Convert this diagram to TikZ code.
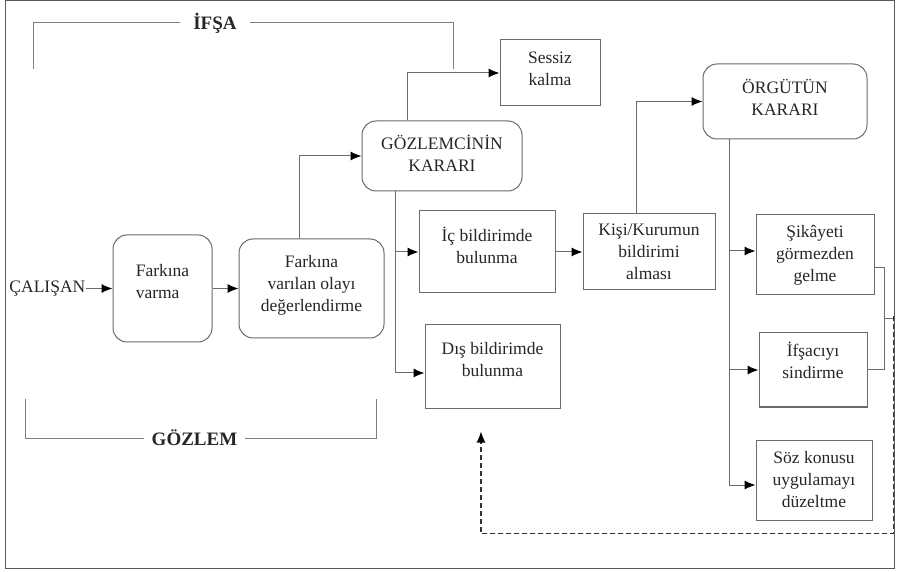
\documentclass[tikz,border=0pt]{standalone}
\usepackage{fontspec}
\setmainfont{Liberation Serif}
\usetikzlibrary{arrows.meta, positioning}
\definecolor{lgray}{HTML}{6A6A6A}
\definecolor{tgray}{HTML}{262626}
\tikzstyle{stage} = [rectangle, rounded corners=14pt, draw=lgray, line width=1pt, inner sep=0pt, text=tgray, text centered, align=center, font=\fontsize{17.5}{22}\selectfont]
\tikzstyle{outcome} = [rectangle, draw=lgray, line width=1pt, inner sep=0pt, text=tgray, text centered, align=center, font=\fontsize{17.5}{22}\selectfont]
\tikzstyle{phase} = [text=tgray, font=\bfseries\fontsize{19}{22}\selectfont]
\tikzstyle{wire} = [draw=lgray, line width=1pt]
\tikzstyle{cable} = [wire, ->, >={Latex[length=11pt, width=9pt, color=black]}]
\tikzstyle{feedback} = [cable, draw=black!80, line width=1.2pt, dash pattern=on 5pt off 3pt]

\begin{document}
\begin{tikzpicture}[x=1pt, y=-1pt, node distance=26pt]
  \useasboundingbox (0,0) rectangle (898,572);
  \draw [wire, draw=black!65] (5,1) rectangle (894,568);
  \node (varma) [stage, align=left, text depth=14pt, minimum width=99pt, minimum height=107pt] at (162.5,288.5) {Farkına\\varma};
  \node (calisan) [left=27pt of varma, inner sep=0pt, text=tgray, font=\fontsize{17.5}{22}\selectfont] {ÇALIŞAN};
  \node (deger) [stage, text depth=10pt, minimum width=145pt, minimum height=99pt, right=26pt of varma] {Farkına\\varılan olayı\\değerlendirme};
  \draw [cable] (calisan) -- (varma);
  \draw [cable] (varma) -- (deger);
  \node (gkarar) [stage, text depth=6pt, minimum width=160pt, minimum height=70pt, above right=47pt and -23pt of deger] {GÖZLEMCİNİN\\KARARI};
  \node (sessiz) [outcome, text depth=8pt, minimum width=100pt, minimum height=66pt, above right=14pt and -23pt of gkarar] {Sessiz\\kalma};
  \draw [cable] ([xshift=-12.5pt]deger.north) |- (gkarar);
  \draw [cable] ([xshift=-35pt]gkarar.north) |- (sessiz);
  \node (ic) [outcome, text depth=14pt, minimum width=136pt, minimum height=82pt, right=34pt of deger, yshift=36.5pt] {İç bildirimde\\bulunma};
  \node (dis) [outcome, text depth=14pt, minimum width=135pt, minimum height=83pt, below=31pt of ic, xshift=5.5pt] {Dış bildirimde\\bulunma};
  \draw [cable] ([xshift=-47pt]gkarar.south) |- (ic);
  \draw [cable] ([xshift=-47pt]gkarar.south) |- ([yshift=-6.5pt]dis.west);
  \node (kisi) [outcome, minimum width=132pt, minimum height=76pt, right=27pt of ic] {Kişi/Kurumun\\bildirimi\\alması};
  \draw [cable] (ic) -- (kisi);
  \node (okarar) [stage, text depth=8pt, minimum width=164pt, minimum height=75pt, above right=74pt and -13pt of kisi] {ÖRGÜTÜN\\KARARI};
  \draw [cable] ([xshift=-13pt]kisi.north) |- (okarar);
  \node (sikayet) [outcome, minimum width=118pt, minimum height=80pt, right=40pt of kisi, yshift=-3pt] {Şikâyeti\\görmezden\\gelme};
  \node (sindir) [outcome, text depth=20pt, minimum width=108pt, minimum height=74pt, below=37pt of sikayet, xshift=-2pt] {İfşacıyı\\sindirme};
  \node (duzelt) [outcome, minimum width=116pt, minimum height=80pt, below=32pt of sindir, xshift=1pt] {Söz konusu\\uygulamayı\\düzeltme};
  \draw [cable] ([xshift=-56pt]okarar.south) |- ([yshift=4pt]sikayet.west);
  \draw [cable] ([xshift=-56pt]okarar.south) |- (sindir);
  \draw [cable] ([xshift=-56pt]okarar.south) |- ([yshift=-5pt]duzelt.west);
  % bracket and feedback loop
  \draw [wire] ([yshift=-13pt]sikayet.east) -- ++(10pt,0) coordinate (b1) |- (sindir.east);
  \path (b1) -- (b1 |- sindir.east) coordinate[midway] (mid);
  \draw [wire] (mid) -- ++(9pt,0) coordinate (ret);
  \coordinate (low) at ([yshift=-13pt]duzelt.south);
  \coordinate (fb) at ([xshift=-11.5pt, yshift=-23pt]dis.south);
  \draw [feedback] ([yshift=3pt]ret) -- (ret |- low) -- (fb |- low) -- (fb);
  % phases
  \node (ifsa) [phase, inner xsep=13pt] at (215,23) {İFŞA};
  \draw [wire, draw=black!50] (ifsa.west) -| (33,69);
  \draw [wire, draw=black!50] (ifsa.east) -| (453,69);
  \node (gozlem) [phase, inner xsep=7.5pt] at (194.5,438) {GÖZLEM};
  \draw [wire, draw=black!50] (gozlem.west) -| (25,399);
  \draw [wire, draw=black!50] (gozlem.east) -| (376,399);
\end{tikzpicture}
\end{document}
